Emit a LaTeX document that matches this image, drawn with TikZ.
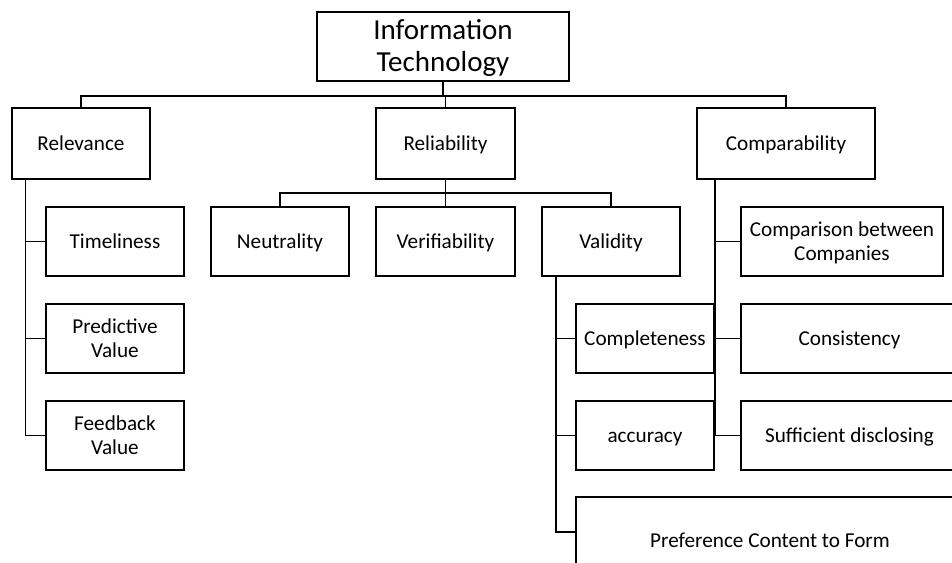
\documentclass[tikz,border=0pt]{standalone}
\usepackage{fontspec}
\setmainfont{Carlito}
\begin{document}
\begin{tikzpicture}[x=0.75pt,y=-0.75pt,
  bx/.style 2 args={draw=black, line width=1.3pt, fill=white, inner sep=0pt, align=center,
     minimum width=#1*0.75pt, minimum height=#2*0.75pt,
     font=\fontsize{15.9}{17.8}\selectfont, text height=10.2pt, text depth=0pt},
  two/.style={text height=28pt, text depth=0pt},
  big/.style={font=\fontsize{21.75}{23.8}\selectfont, text height=37.8pt, text depth=0pt},
  conn/.style={draw=black, line width=1.3pt}]
\useasboundingbox (0,0) rectangle (952,563);
\clip (0,0) rectangle (952,563);
% level 0
\node[bx={252}{69}, big] (it) at (443,46.5) {Information\\Technology};
% level 1
\node[bx={138}{71}] (rel) at (81,143.5) {Relevance};
\node[bx={139}{71}] (rlb) at (445.5,143.5) {Reliability};
\node[bx={178}{71}] (cmp) at (786,143.5) {Comparability};
% relevance children
\node[bx={138}{69}] (tim) at (115,241.5) {Timeliness};
\node[bx={138}{69}, two] (pre) at (115,338.5) {Predictive\\Value};
\node[bx={138}{69}, two] (fb) at (115,435.5) {Feedback\\Value};
% reliability children
\node[bx={138}{69}] (neu) at (280,241.5) {Neutrality};
\node[bx={139}{69}] (ver) at (445.5,241.5) {Verifiability};
\node[bx={138}{69}] (val) at (611,241.5) {Validity};
% validity children
\node[bx={138}{69}] (com) at (645,338.5) {Completeness};
\node[bx={138}{69}] (acc) at (645,435.5) {accuracy};
\node[bx={388}{88}] (pcf) at (770,541) {Preference Content to Form};
% comparability children
\node[bx={202}{69}, two] (cbc) at (842,241.5) {Comparison between\\Companies};
\node[bx={217}{69}] (cons) at (849.5,338.5) {Consistency};
\node[bx={217}{69}] (suf) at (849.5,435.5) {Sufficient disclosing};
% coordinates
\coordinate (bus) at (443,96);
\coordinate (rbus) at (445.5,192.7);
\coordinate (relx) at (25.5,179);
\coordinate (valx) at (556,276);
\coordinate (cmpx) at (715,179);
\coordinate (pcfj) at (576,532);
% top bus
\draw[conn] (it.south) -- (bus);
\draw[conn] (rel.north) |- (bus) -| (cmp.north);
\draw[conn] (bus) -| (rlb.north);
% relevance
\draw[conn] (relx) |- (fb.west);
\draw[conn] (relx |- tim.west) -- (tim.west);
\draw[conn] (relx |- pre.west) -- (pre.west);
% reliability
\draw[conn] (rlb.south) -- (rbus);
\draw[conn] (neu.north) |- (rbus) -| (val.north);
\draw[conn] (rbus) -- (ver.north);
% validity
\draw[conn] (valx) |- (pcfj);
\draw[conn] (valx |- com.west) -- (com.west);
\draw[conn] (valx |- acc.west) -- (acc.west);
% comparability
\draw[conn] (cmpx) |- (suf.west);
\draw[conn] (cmpx |- cbc.west) -- (cbc.west);
\draw[conn] (cmpx |- cons.west) -- (cons.west);
\end{tikzpicture}
\end{document}
